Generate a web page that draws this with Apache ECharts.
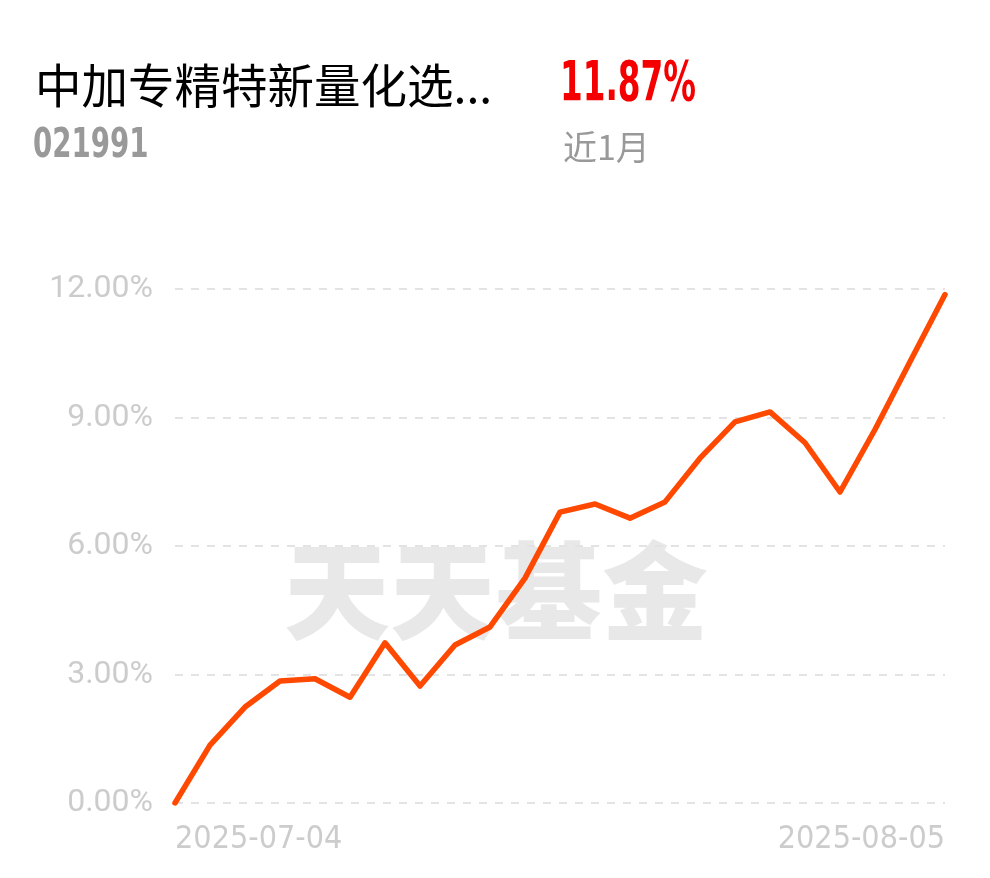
<!DOCTYPE html>
<html><head><meta charset="utf-8">
<script src="https://cdn.jsdelivr.net/npm/echarts@6/dist/echarts.min.js"></script>
<style>html,body{margin:0;padding:0;background:#fff}#c{width:990px;height:878px}</style>
</head><body><div id="c"></div>
<script>
const dates = ['2025-07-04','2025-07-07','2025-07-08','2025-07-09','2025-07-10','2025-07-11','2025-07-14','2025-07-15','2025-07-16','2025-07-17','2025-07-18','2025-07-21','2025-07-22','2025-07-23','2025-07-24','2025-07-25','2025-07-28','2025-07-29','2025-07-30','2025-07-31','2025-08-01','2025-08-04','2025-08-05'];
const returns = [0, 1.35, 2.24, 2.85, 2.90, 2.47, 3.74, 2.73, 3.69, 4.11, 5.25, 6.79, 6.98, 6.65, 7.03, 8.05, 8.90, 9.13, 8.41, 7.26, 8.72, 10.30, 11.87];
const yTicks = [0, 3, 6, 9, 12];
const fundName = '中加专精特新量化选...';
const fundCode = '021991';
const periodReturn = '11.87%';
const periodLabel = '近1月';

const COND = '"DejaVu Sans Condensed", "Roboto Condensed", Roboto, sans-serif';
const chart = echarts.init(document.getElementById('c'));
chart.setOption({
  animation: false,
  title: [
    {text: fundName, left: 30, top: 57, textStyle: {fontSize: 46.5, fontWeight: 'normal', color: '#000', fontFamily: 'Noto Sans CJK SC'}},
    {text: periodLabel, left: 558, top: 125, textStyle: {fontSize: 34, fontWeight: 'normal', color: '#999', fontFamily: 'Noto Sans CJK SC'}}
  ],
  graphic: [
    {type: 'text', x: 33, y: 146, scaleX: 0.75, z: 10,
     style: {text: fundCode, fontSize: 41, fontWeight: 'bold', fill: '#999', fontFamily: COND, verticalAlign: 'middle', align: 'left'}},
    {type: 'text', x: 560, y: 86, scaleX: 0.66, z: 10,
     style: {text: periodReturn, fontSize: 55, fontWeight: 'bold', fill: '#f50000', fontFamily: COND, verticalAlign: 'middle', align: 'left'}},
    {type: 'text', left: 284, top: 538, z: 0,
     style: {text: '天天基金', fontSize: 106, fontWeight: 900, fill: '#e8e8e8', fontFamily: 'Noto Sans CJK SC'}}
  ],
  grid: {left: 175, right: 45, top: 289, bottom: 75},
  xAxis: {
    type: 'category', data: dates, boundaryGap: false,
    axisLine: {show: false}, axisTick: {show: false},
    axisLabel: {
      interval: function (i) { return i === 0 || i === dates.length - 1; },
      alignMinLabel: 'left', alignMaxLabel: 'right',
      color: '#cccccc', fontSize: 32, margin: 21, fontFamily: COND
    }
  },
  yAxis: {
    type: 'value', min: yTicks[0], max: yTicks[yTicks.length - 1], interval: 3,
    axisLine: {show: false}, axisTick: {show: false},
    splitLine: {lineStyle: {color: '#e3e3e3', type: [8, 8], width: 2}},
    axisLabel: {formatter: v => v.toFixed(2) + '%', color: '#cccccc', fontSize: 32, margin: 22, fontFamily: 'Roboto'}
  },
  series: [{
    type: 'line', data: returns, showSymbol: false, z: 5,
    lineStyle: {color: '#ff4800', width: 5.5, join: 'round', cap: 'round'}
  }]
});
</script></body></html>
